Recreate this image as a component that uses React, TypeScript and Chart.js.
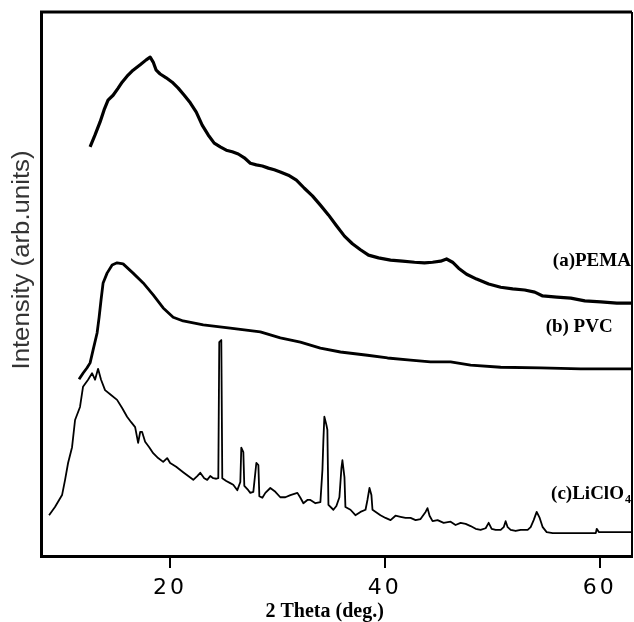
import { useEffect, useRef } from 'react';
import Chart from 'chart.js/auto';

// 2θ (deg.) and intensity (arb. units)
const pemaTheta = [12.57, 13.03, 13.5, 13.87, 14.24, 14.71, 15.18, 15.55, 16.01, 16.57, 17.23, 17.79, 18.16, 18.44, 18.72, 19.09, 19.65, 20.21, 20.77, 21.33, 21.89, 22.45, 23.0, 23.56, 24.12, 24.68, 25.24, 25.8, 26.36, 26.92, 27.48, 28.04, 28.6, 29.16, 29.71, 30.27, 31.02, 31.77, 32.51, 33.26, 34.0, 34.75, 35.5, 36.24, 36.98, 37.73, 38.48, 39.41, 40.53, 41.64, 42.76, 43.69, 44.44, 45.19, 45.74, 46.3, 46.86, 47.61, 48.54, 49.66, 50.78, 51.9, 53.01, 53.95, 54.69, 56.0, 57.3, 58.61, 60.1, 61.59, 63.0];
const pemaIntensity = [75.2, 77.4, 79.8, 82.0, 83.8, 84.7, 86.0, 87.1, 88.2, 89.3, 90.3, 91.2, 91.7, 90.8, 89.3, 88.6, 87.9, 87.1, 86.0, 84.7, 83.3, 81.6, 79.2, 77.4, 75.9, 75.2, 74.6, 74.3, 73.9, 73.2, 72.2, 71.9, 71.7, 71.3, 71.0, 70.6, 70.0, 69.1, 67.6, 66.2, 64.5, 62.7, 60.7, 58.8, 57.4, 56.3, 55.3, 54.8, 54.4, 54.2, 54.0, 53.9, 54.0, 54.2, 54.6, 54.0, 52.9, 51.8, 50.9, 50.0, 49.4, 49.1, 48.9, 48.5, 47.8, 47.6, 47.4, 46.9, 46.7, 46.5, 46.5];

const pvcTheta = [11.54, 11.91, 12.29, 12.57, 12.85, 13.22, 13.41, 13.59, 13.78, 14.15, 14.62, 15.08, 15.64, 16.57, 17.51, 18.44, 19.37, 20.3, 21.23, 23.1, 25.61, 28.41, 30.27, 32.14, 34.0, 35.87, 38.38, 40.25, 42.39, 44.25, 46.12, 47.98, 50.78, 54.5, 58.23, 63.0];
const pvcIntensity = [32.5, 33.6, 34.6, 35.5, 37.9, 41.0, 43.9, 47.1, 50.2, 52.0, 53.5, 53.9, 53.7, 52.0, 50.2, 48.0, 45.6, 43.9, 43.2, 42.5, 41.9, 41.2, 40.1, 39.3, 38.2, 37.5, 36.9, 36.4, 36.0, 35.7, 35.7, 35.1, 34.7, 34.6, 34.4, 34.4];

const licTheta = [8.75, 9.3, 9.96, 10.24, 10.52, 10.89, 11.17, 11.63, 11.91, 12.38, 12.75, 13.03, 13.31, 13.59, 13.96, 14.52, 15.08, 15.55, 16.01, 16.39, 16.76, 17.04, 17.23, 17.41, 17.69, 18.07, 18.44, 18.9, 19.37, 19.74, 20.02, 20.58, 21.23, 21.7, 22.17, 22.54, 22.82, 23.19, 23.47, 23.75, 24.03, 24.31, 24.5, 24.59, 24.78, 24.87, 25.24, 25.61, 25.89, 26.27, 26.55, 26.64, 26.83, 26.92, 27.29, 27.48, 27.76, 28.04, 28.23, 28.32, 28.6, 28.88, 29.34, 29.81, 30.27, 30.74, 31.21, 31.86, 32.14, 32.42, 32.79, 33.07, 33.54, 34.0, 34.19, 34.28, 34.37, 34.56, 34.65, 34.75, 35.21, 35.49, 35.77, 35.96, 36.05, 36.24, 36.33, 36.8, 37.26, 37.73, 38.2, 38.38, 38.57, 38.75, 38.85, 39.59, 40.06, 40.53, 40.99, 41.46, 41.92, 42.39, 42.86, 43.32, 43.79, 43.97, 44.16, 44.44, 44.91, 45.47, 46.12, 46.58, 47.05, 47.52, 47.98, 48.45, 48.91, 49.38, 49.66, 49.94, 50.31, 50.78, 51.06, 51.24, 51.43, 51.71, 52.17, 52.64, 53.29, 53.57, 53.85, 54.13, 54.41, 54.69, 55.06, 55.62, 59.63, 59.72, 59.91, 63.0];
const licIntensity = [7.5, 9.0, 11.2, 14.0, 17.1, 20.0, 25.0, 27.4, 31.1, 32.4, 33.6, 32.4, 34.4, 32.4, 30.5, 29.6, 28.7, 27.2, 25.6, 24.6, 23.7, 20.8, 22.8, 22.8, 21.0, 20.0, 18.9, 18.0, 17.3, 18.0, 17.1, 16.4, 15.4, 14.7, 14.0, 14.7, 15.3, 14.3, 14.0, 14.7, 14.3, 14.2, 14.3, 39.3, 39.7, 14.3, 13.8, 13.4, 13.1, 12.1, 13.6, 19.9, 19.1, 12.9, 12.1, 11.6, 11.8, 17.1, 16.7, 11.0, 10.7, 11.6, 12.5, 11.8, 10.8, 10.8, 11.2, 11.6, 10.7, 9.7, 10.3, 10.3, 9.7, 9.9, 15.8, 21.3, 25.6, 24.1, 23.2, 9.4, 8.5, 9.2, 10.8, 16.2, 17.6, 14.5, 9.0, 8.5, 7.5, 8.1, 8.5, 10.3, 12.5, 11.2, 8.5, 7.5, 7.0, 6.6, 7.4, 7.2, 7.0, 7.0, 6.6, 6.8, 8.1, 8.8, 7.4, 6.4, 6.6, 6.1, 6.3, 5.7, 6.1, 5.9, 5.5, 5.0, 4.8, 5.1, 6.1, 5.0, 4.8, 4.8, 5.3, 6.4, 5.3, 4.8, 4.6, 4.8, 4.8, 5.3, 6.6, 8.1, 7.0, 5.3, 4.4, 4.2, 4.2, 5.0, 4.4, 4.4];

const xTickValues = [20, 40, 60];
const xTitle = '2 Theta (deg.)';
const yTitle = 'Intensity (arb.units)';

const toPoints = (xs: number[], ys: number[]) => xs.map((x, i) => ({ x, y: ys[i] }));

export default function App() {
  const ref = useRef<HTMLCanvasElement>(null);

  useEffect(() => {
    const textPlugin = {
      id: 'xrdText',
      beforeDraw(chart: any) {
        chart.ctx.letterSpacing = '3px';
      },
      beforeDatasetsDraw(chart: any) {
        chart.ctx.letterSpacing = '0px';
      },
      afterDraw(chart: any) {
        const { ctx, chartArea, scales } = chart;
        const xs = scales.x;
        const ys = scales.y;
        ctx.save();
        ctx.letterSpacing = '0px';
        // frame top & right
        ctx.strokeStyle = '#000';
        ctx.lineWidth = 3;
        ctx.beginPath();
        ctx.moveTo(chartArea.left - 1, chartArea.top);
        ctx.lineTo(chartArea.right, chartArea.top);
        ctx.stroke();
        ctx.lineWidth = 2;
        ctx.beginPath();
        ctx.moveTo(chartArea.right, chartArea.top);
        ctx.lineTo(chartArea.right, chartArea.bottom);
        ctx.stroke();

        // series labels
        ctx.fillStyle = '#000';
        ctx.font = 'bold 19px "Liberation Serif"';
        ctx.textBaseline = 'middle';
        ctx.textAlign = 'right';
        const rx = xs.getPixelForValue(62.9);
        ctx.fillText('(a)PEMA', rx, ys.getPixelForValue(54.2));
        ctx.fillText('(b) PVC', xs.getPixelForValue(61.2), ys.getPixelForValue(42.0));
        // (c)LiClO4 with subscript
        ctx.font = 'bold 12px "Liberation Serif"';
        const subW = ctx.measureText('4').width;
        const cy = ys.getPixelForValue(11.4);
        ctx.textAlign = 'left';
        ctx.font = 'bold 19px "Liberation Serif"';
        const mainW = ctx.measureText('(c)LiClO').width;
        const startX = rx - mainW - subW - 1;
        ctx.fillText('(c)LiClO', startX, cy);
        ctx.font = 'bold 12px "Liberation Serif"';
        ctx.fillText('4', startX + mainW + 1, cy + 6);

        // x title
        ctx.font = 'bold 20px "Liberation Serif"';
        ctx.textAlign = 'center';
        ctx.textBaseline = 'middle';
        ctx.fillText(xTitle, xs.getPixelForValue(34.4), chart.height - 10);

        // y title (stretched along its length)
        ctx.fillStyle = '#333';
        ctx.font = '23px "Liberation Sans"';
        ctx.translate(23, (chartArea.top + chartArea.bottom) / 2 - 24);
        ctx.rotate(-Math.PI / 2);
        ctx.scale(1.12, 1);
        ctx.fillText(yTitle, 0, 0);
        ctx.restore();
      },
    };

    const chart = new Chart(ref.current!, {
      type: 'line',
      data: {
        datasets: [
          { label: '(a)PEMA', data: toPoints(pemaTheta, pemaIntensity), borderColor: '#000', borderWidth: 3.2, pointRadius: 0, tension: 0, fill: false, borderJoinStyle: 'round' },
          { label: '(b) PVC', data: toPoints(pvcTheta, pvcIntensity), borderColor: '#000', borderWidth: 2.8, pointRadius: 0, tension: 0, fill: false, borderJoinStyle: 'round' },
          { label: '(c)LiClO4', data: toPoints(licTheta, licIntensity), borderColor: '#000', borderWidth: 1.8, pointRadius: 0, tension: 0, fill: false, borderJoinStyle: 'round' },
        ],
      },
      options: {
        animation: false,
        responsive: false,
        devicePixelRatio: 1,
        layout: { padding: { top: 12, right: 2, left: 0, bottom: 0 } },
        plugins: { legend: { display: false }, tooltip: { enabled: false }, title: { display: false } },
        scales: {
          x: {
            type: 'linear',
            min: 8,
            max: 63,
            afterBuildTicks: (s: any) => {
              s.ticks = xTickValues.map((v) => ({ value: v }));
            },
            afterFit: (s: any) => {
              s.height = 66;
            },
            ticks: { font: { family: 'DejaVu Sans', size: 22 }, color: '#000', padding: 7, maxRotation: 0, autoSkip: false },
            grid: { drawOnChartArea: false, drawTicks: true, tickLength: 12, color: '#000', lineWidth: 2 },
            border: { display: true, color: '#000', width: 3 },
          },
          y: {
            type: 'linear',
            min: 0,
            max: 100,
            afterFit: (s: any) => {
              s.width = 41;
            },
            ticks: { display: false },
            grid: { display: false },
            border: { display: true, color: '#000', width: 3 },
          },
        },
      },
      plugins: [textPlugin],
    } as any);
    return () => chart.destroy();
  }, []);

  return (
    <div style={{ position: 'absolute', left: 0, top: 0, width: 634, height: 622, background: '#fff' }}>
      <canvas ref={ref} width={634} height={622} style={{ display: 'block' }} />
    </div>
  );
}
